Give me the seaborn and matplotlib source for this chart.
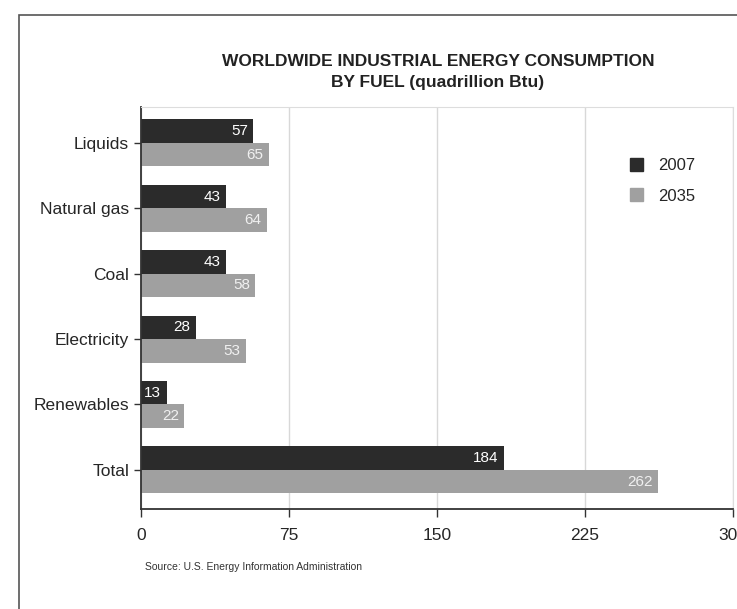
import pandas as pd
import numpy as np
import matplotlib.pyplot as plt
import seaborn as sns
from matplotlib.patches import Rectangle

# Datos del grafico
categorias = ['Liquids', 'Natural gas', 'Coal', 'Electricity', 'Renewables', 'Total']
valores_2007 = [57, 43, 43, 28, 13, 184]
valores_2035 = [65, 64, 58, 53, 22, 262]
series = ['2007', '2035']
x_ticks = [0, 75, 150, 225, 300]

df = pd.DataFrame({
  'fuel': categorias * 2,
  'year': ['2007'] * len(categorias) + ['2035'] * len(categorias),
  'value': valores_2007 + valores_2035,
})

sns.set_style('white')
plt.rcParams['font.family'] = ['Liberation Sans', 'DejaVu Sans']

fig = plt.figure(figsize=(7.37, 6.09), dpi=100)
ax = fig.add_axes([141/737, 1 - 509/609, 592/737, 402/609])

# Marco exterior
fig.patches.append(Rectangle((19/737, -0.1), 1.2, 1 - 15/609 + 0.1, transform=fig.transFigure,
                             fill=False, edgecolor='#555555', linewidth=1.2))

colores = {'2007': '#2b2b2b', '2035': '#a0a0a0'}
sns.barplot(data=df, y='fuel', x='value', hue='year', orient='h', palette=colores,
            width=0.72, ax=ax, saturation=1, edgecolor='none', legend=False)

# Etiquetas dentro de las barras
for cont, col in zip(ax.containers, ['white', '#f0f0f0']):
  ax.bar_label(cont, labels=[str(int(v)) for v in cont.datavalues], padding=-4,
               color=col, fontsize=11)
for t in ax.texts:
  t.set_ha('right')

ax.set_xlim(0, 300)
ax.set_ylim(5.6, -0.55)
ax.set_xticks(x_ticks)
ax.set_xticklabels([str(v) for v in x_ticks], fontsize=12.5)
ax.tick_params(axis='y', labelsize=12.5, length=5, width=1, color='#333333', direction='out', left=True)
ax.tick_params(axis='x', length=6, width=1, color='#333333', direction='out', bottom=True, pad=8)
ax.set_xlabel('')
ax.set_ylabel('')
ax.grid(axis='x', color='#d8d8d8', linewidth=1)
ax.set_axisbelow(True)

for s in ['top', 'right']:
  ax.spines[s].set_color('#dddddd')
for s in ['left', 'bottom']:
  ax.spines[s].set_color('#333333')
  ax.spines[s].set_linewidth(1.3)

# Leyenda manual
handles = [Rectangle((0, 0), 1, 1, color=colores[s]) for s in series]
ax.legend(handles, series, loc='upper left', bbox_to_anchor=(0.8, 0.91), frameon=False,
          fontsize=12, handlelength=0.8, handleheight=0.8, handletextpad=0.9, labelspacing=0.9)

fig.text(438/737, 1 - 62/609, 'WORLDWIDE INDUSTRIAL ENERGY CONSUMPTION', ha='center', va='center',
         fontsize=12.5, fontweight='bold', color='#222222')
fig.text(438/737, 1 - 82/609, 'BY FUEL (quadrillion Btu)', ha='center', va='center',
         fontsize=12.5, fontweight='bold', color='#222222')
fig.text(145/737, 1 - 567/609, 'Source: U.S. Energy Information Administration', ha='left', va='center',
         fontsize=7.5, color='#333333')

fig.savefig('out.png', dpi=100)
